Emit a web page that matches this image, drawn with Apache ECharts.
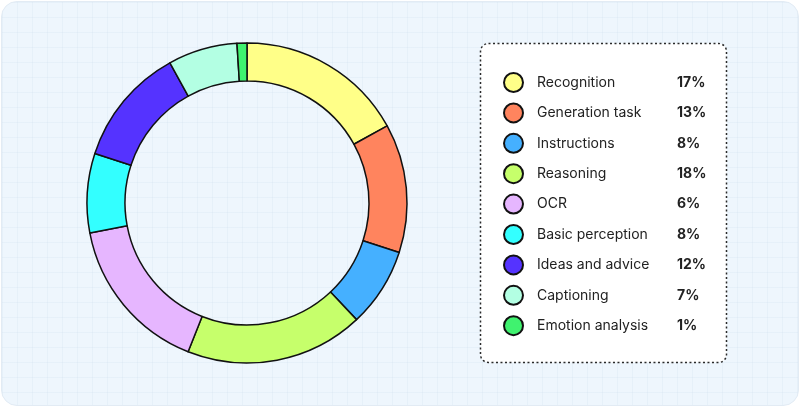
<!DOCTYPE html>
<html>
<head>
<meta charset="utf-8">
<script src="https://cdn.jsdelivr.net/npm/echarts@6/dist/echarts.min.js"></script>
<style>
  html, body { margin: 0; padding: 0; background: #ffffff; }
  #card {
    position: absolute; left: 1px; top: 1px; width: 796px; height: 403px;
    border: 1px solid #e2ebf4; border-radius: 16px;
    background-color: #eef6fd;
    background-image:
      linear-gradient(to right, rgba(200,218,236,0.2) 1px, transparent 1px),
      linear-gradient(to bottom, rgba(200,218,236,0.2) 1px, transparent 1px);
    background-size: 15px 15px;
    overflow: hidden;
  }
  #chart { position: absolute; left: 0; top: 0; width: 800px; height: 407px; }
</style>
</head>
<body>
<div id="card"></div>
<div id="chart"></div>
<script>
const categories = ['Recognition', 'Generation task', 'Instructions', 'Reasoning', 'OCR',
  'Basic perception', 'Ideas and advice', 'Captioning', 'Emotion analysis'];
// arc sizes as drawn in the ring (percent)
const values = [17, 13, 8, 18, 16, 8, 12, 7, 1];
// percentage labels as printed in the legend
const legendLabels = ['17%', '13%', '8%', '18%', '6%', '8%', '12%', '7%', '1%'];
const colors = ['#ffff88', '#ff845e', '#45b0ff', '#c6ff6b', '#e6b6ff', '#33ffff', '#5533ff', '#b3ffe3', '#40f26f'];

const chart = echarts.init(document.getElementById('chart'), null, { renderer: 'canvas' });
const labelMap = {};
categories.forEach((c, i) => { labelMap[c] = legendLabels[i]; });

chart.setOption({
  backgroundColor: 'transparent',
  animation: false,
  graphic: [{
    type: 'rect', z: 0,
    shape: { x: 480.5, y: 43.5, width: 246, height: 319, r: 8 },
    style: { fill: '#ffffff', stroke: '#2a2a2a', lineWidth: 1.5, lineDash: [2, 2.5] }
  }],
  legend: {
    orient: 'vertical',
    left: 498, top: 67,
    z: 5,
    icon: 'circle',
    itemWidth: 19, itemHeight: 19,
    itemGap: 9.4,
    selectedMode: false,
    data: categories,
    formatter: function (name) { return '{n|' + name + '}{p|' + labelMap[name] + '}'; },
    textStyle: {
      rich: {
        n: { fontFamily: 'Inter', fontSize: 14, color: '#222222', width: 140, padding: [0, 0, 0, 9] },
        p: { fontFamily: 'Inter', fontSize: 14, fontWeight: 'bold', color: '#222222' }
      }
    }
  },
  series: [{
    type: 'pie',
    center: [247, 203],
    radius: [122, 160],
    startAngle: 90,
    clockwise: true,
    label: { show: false },
    labelLine: { show: false },
    emphasis: { disabled: true },
    itemStyle: { borderColor: '#111111', borderWidth: 1.5 },
    data: categories.map((c, i) => ({ name: c, value: values[i], itemStyle: { color: colors[i] } }))
  }]
});
</script>
</body>
</html>
